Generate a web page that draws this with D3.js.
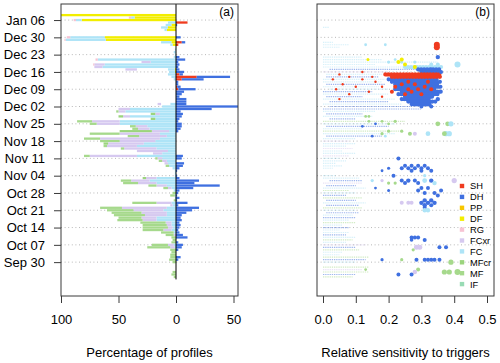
<!DOCTYPE html>
<html>
<head>
<meta charset="utf-8">
<script src="https://cdn.jsdelivr.net/npm/d3@7"></script>
<style>
body { margin: 0; background: #fff; }
svg text { font-family: "Liberation Sans", Arial, Helvetica, sans-serif; fill: #000; }
</style>
</head>
<body>
<div id="chart"></div>
<script>
// grain types and colours
var types = ["SH", "DH", "PP", "DF", "RG", "FCxr", "FC", "MFcr", "MF", "IF"];
var colors = {SH: "#ef3b1f", DH: "#3f70e0", PP: "#f7c600", DF: "#f2ee00", RG: "#f7c3d3",
  FCxr: "#d6c9f0", FC: "#aee4f7", MFcr: "#9bd47d", MF: "#a6d98c", IF: "#98dbb4", X: "#ffffff"};

var tickDays = ["01-06", "12-30", "12-23", "12-16", "12-09", "12-02", "11-25", "11-18", "11-11", "11-04", "10-28", "10-21", "10-14", "10-07", "09-30"];

// (a) left side: stable grain types, % of profiles, stacked from the zero line outwards
var leftBars = [
  ["01-08", [["DF", 100]]],
  ["01-07", [["DF", 36], ["FC", 3], ["RG", 2]]],
  ["01-06", [["DF", 82], ["FC", 5], ["RG", 2]]],
  ["01-05", [["FC", 7]]],
  ["01-04", [["DF", 4], ["FC", 5]]],
  ["01-03", [["DF", 7], ["FC", 6]]],
  ["01-02", [["DF", 8], ["FC", 2]]],
  ["12-30", [["DF", 62], ["FC", 30], ["RG", 3]]],
  ["12-29", [["DF", 61], ["FC", 35], ["RG", 1]]],
  ["12-28", [["DF", 4], ["FC", 9]]],
  ["12-27", [["DF", 3], ["FC", 2]]],
  ["12-25", [["FC", 1]]],
  ["12-24", [["FC", 2]]],
  ["12-23", [["FC", 1]]],
  ["12-22", [["FC", 2]]],
  ["12-21", [["FC", 68], ["RG", 2]]],
  ["12-20", [["FC", 22], ["FCxr", 8]]],
  ["12-19", [["FC", 62], ["FCxr", 9], ["RG", 1]]],
  ["12-18", [["FC", 64], ["FCxr", 7]]],
  ["12-17", [["DF", 1], ["FC", 6], ["X", 27], ["FCxr", 10]]],
  ["12-16", [["DF", 1], ["FC", 5]]],
  ["12-15", [["FC", 7]]],
  ["12-14", [["FC", 4]]],
  ["12-13", [["FC", 2]]],
  ["12-03", [["FC", 5], ["X", 8], ["FCxr", 3]]],
  ["12-02", [["FC", 12]]],
  ["12-01", [["FC", 40], ["FCxr", 10]]],
  ["11-30", [["FC", 44], ["FCxr", 6], ["MF", 2]]],
  ["11-29", [["FC", 14], ["FCxr", 4], ["MFcr", 4]]],
  ["11-28", [["FC", 40], ["FCxr", 6], ["MFcr", 4]]],
  ["11-27", [["FC", 18], ["MFcr", 4]]],
  ["11-26", [["FC", 49], ["FCxr", 24], ["MF", 13]]],
  ["11-25", [["FC", 49], ["FCxr", 20], ["MF", 6]]],
  ["11-24", [["FC", 25], ["FCxr", 10], ["MF", 5]]],
  ["11-23", [["FC", 23], ["FCxr", 10], ["MF", 5]]],
  ["11-22", [["FC", 6], ["FCxr", 15], ["MFcr", 28]]],
  ["11-21", [["FC", 14], ["FCxr", 35], ["MF", 26]]],
  ["11-20", [["FC", 8], ["FCxr", 24], ["MF", 10]]],
  ["11-19", [["FC", 14], ["FCxr", 52], ["MF", 14]]],
  ["11-18", [["FC", 18], ["FCxr", 31], ["MF", 17]]],
  ["11-17", [["FC", 28], ["FCxr", 31], ["MFcr", 4]]],
  ["11-16", [["FC", 34], ["FCxr", 26], ["MF", 3]]],
  ["11-15", [["FC", 17], ["FCxr", 28], ["MF", 3]]],
  ["11-14", [["FC", 7], ["FCxr", 27]]],
  ["11-13", [["FC", 12], ["FCxr", 8]]],
  ["11-12", [["FC", 34], ["FCxr", 41], ["MF", 5]]],
  ["11-11", [["FC", 12], ["FCxr", 4], ["MF", 2]]],
  ["11-10", [["FC", 8], ["FCxr", 4], ["MF", 3]]],
  ["11-09", [["FC", 7], ["FCxr", 3]]],
  ["11-08", [["FC", 6], ["MF", 3]]],
  ["11-07", [["FC", 3]]],
  ["11-06", [["FC", 1]]],
  ["11-05", [["FC", 1]]],
  ["11-04", [["FC", 1]]],
  ["11-03", [["FC", 17], ["FCxr", 9], ["MFcr", 3]]],
  ["11-02", [["FC", 23], ["FCxr", 16], ["MF", 9]]],
  ["11-01", [["FC", 17], ["FCxr", 16], ["MF", 13]]],
  ["10-31", [["FC", 8], ["FCxr", 9], ["MF", 7]]],
  ["10-30", [["FC", 4], ["FCxr", 3], ["MF", 4]]],
  ["10-29", [["FC", 2]]],
  ["10-28", [["MF", 3]]],
  ["10-27", [["FC", 1], ["MF", 4]]],
  ["10-26", [["FC", 1]]],
  ["10-25", [["MF", 2]]],
  ["10-24", [["FC", 4], ["FCxr", 13], ["MF", 21]]],
  ["10-23", [["FC", 3], ["FCxr", 2]]],
  ["10-22", [["FC", 8], ["FCxr", 39], ["MF", 19]]],
  ["10-21", [["FC", 11], ["FCxr", 26], ["MF", 23]]],
  ["10-20", [["FC", 8], ["FCxr", 22], ["MF", 26]]],
  ["10-19", [["FC", 8], ["FCxr", 19], ["MF", 27]]],
  ["10-18", [["FC", 17], ["FCxr", 13], ["MF", 20]]],
  ["10-17", [["FC", 17], ["FCxr", 12], ["MF", 22]]],
  ["10-16", [["FC", 4], ["FCxr", 5], ["MF", 22]]],
  ["10-15", [["FC", 4], ["FCxr", 4], ["MF", 21]]],
  ["10-14", [["FC", 3], ["FCxr", 4], ["MF", 22]]],
  ["10-13", [["FC", 4], ["FCxr", 7], ["MF", 18]]],
  ["10-12", [["FC", 2], ["MF", 11]]],
  ["10-11", [["FCxr", 2], ["MF", 7]]],
  ["10-10", [["MF", 4]]],
  ["10-09", [["MF", 3]]],
  ["10-08", [["MF", 4]]],
  ["10-07", [["FC", 2], ["FCxr", 5], ["MF", 14]]],
  ["10-06", [["FC", 1], ["FCxr", 4], ["MF", 20]]],
  ["10-05", [["MF", 5]]],
  ["10-04", [["MF", 4]]],
  ["10-03", [["MF", 5]]],
  ["10-02", [["MF", 5]]],
  ["10-01", [["MF", 6]]],
  ["09-30", [["MF", 3]]],
  ["09-26", [["MF", 3]]],
  ["09-25", [["MF", 4]]],
  ["09-24", [["MF", 2]]]
];

// (a) right side: persistent types [day, SH, DH]
var rightBars = [
  ["01-05", 10, 0], ["01-04", 0, 1], ["12-30", 0, 4], ["12-28", 5, 3], ["12-27", 2, 0],
  ["12-22", 0, 3], ["12-21", 0, 8], ["12-20", 0, 2], ["12-19", 0, 3], ["12-18", 0, 2],
  ["12-17", 0, 3], ["12-16", 0, 7], ["12-15", 3, 3], ["12-14", 18, 29], ["12-13", 5, 19],
  ["12-12", 0, 2], ["12-11", 0, 2], ["12-10", 1, 3], ["12-09", 2, 15], ["12-08", 0, 7],
  ["12-07", 0, 5], ["12-06", 0, 3], ["12-05", 0, 9], ["12-04", 0, 9], ["12-03", 0, 9],
  ["12-02", 0, 56], ["12-01", 0, 31], ["11-30", 0, 4], ["11-29", 0, 6], ["11-28", 0, 5],
  ["11-27", 0, 3], ["11-26", 0, 2], ["11-25", 0, 5], ["11-24", 0, 5], ["11-23", 0, 4],
  ["11-22", 0, 2], ["11-12", 0, 6], ["11-11", 0, 5], ["11-09", 0, 7], ["11-08", 0, 6],
  ["11-07", 0, 3], ["11-06", 0, 1], ["11-04", 0, 1], ["11-03", 0, 3], ["11-02", 0, 20],
  ["11-01", 0, 16], ["10-31", 0, 38], ["10-30", 0, 15], ["10-29", 0, 3], ["10-28", 0, 2],
  ["10-27", 0, 1], ["10-26", 0, 3], ["10-25", 0, 1], ["10-24", 0, 10], ["10-23", 0, 2],
  ["10-22", 0, 20], ["10-21", 0, 14], ["10-20", 0, 9], ["10-19", 0, 5], ["10-18", 0, 4],
  ["10-17", 0, 5], ["10-16", 0, 3], ["10-15", 0, 4], ["10-14", 0, 3], ["10-13", 0, 2],
  ["10-12", 0, 3], ["10-11", 0, 6], ["10-10", 0, 10], ["10-08", 0, 2], ["10-07", 0, 6],
  ["10-06", 0, 5], ["10-05", 0, 2], ["10-02", 0, 4], ["10-01", 0, 2]
];

// (b) faint rows of small points [day, from, to, type]
var streaks = [
  ["01-03", 0, 0.02, "FC"], ["12-28", 0, 0.03, "FC"], ["12-27", 0, 0.08, "FC"], ["12-26", 0, 0.05, "FC"],
  ["12-22", 0, 0.12, "FC"], ["12-21", 0, 0.18, "FC"], ["12-20", 0, 0.35, "FC"], ["12-19", 0, 0.16, "FC"],
  ["12-18", 0, 0.35, "FC"], ["12-17", 0.02, 0.3, "DH"], ["12-16", 0, 0.2, "FCxr"], ["12-15", 0.01, 0.18, "FC"],
  ["12-14", 0.01, 0.17, "DH"], ["12-13", 0, 0.19, "FC"], ["12-12", 0, 0.18, "FC"], ["12-11", 0.01, 0.19, "DH"],
  ["12-10", 0, 0.17, "FC"], ["12-09", 0.02, 0.2, "FC"], ["12-08", 0, 0.15, "DH"], ["12-07", 0, 0.2, "FC"],
  ["12-06", 0.01, 0.12, "DH"], ["12-05", 0, 0.22, "FC"], ["12-04", 0.02, 0.2, "DH"], ["12-03", 0, 0.24, "FC"],
  ["12-02", 0.02, 0.34, "DH"], ["12-01", 0, 0.3, "DH"], ["11-30", 0, 0.16, "FC"], ["11-29", 0.01, 0.12, "DH"],
  ["11-28", 0, 0.15, "FC"], ["11-27", 0.02, 0.1, "DH"], ["11-26", 0, 0.25, "MF"], ["11-25", 0, 0.22, "FC"],
  ["11-24", 0.01, 0.2, "DH"], ["11-23", 0, 0.12, "FC"], ["11-22", 0, 0.24, "MF"], ["11-21", 0, 0.22, "FC"],
  ["11-20", 0.01, 0.18, "DH"], ["11-19", 0, 0.1, "FC"], ["11-18", 0, 0.08, "FCxr"], ["11-17", 0, 0.1, "FC"],
  ["11-16", 0, 0.07, "FC"], ["11-15", 0, 0.09, "FCxr"], ["11-14", 0, 0.06, "FC"], ["11-13", 0, 0.1, "FC"],
  ["11-12", 0, 0.08, "FCxr"], ["11-11", 0, 0.05, "FC"], ["11-10", 0, 0.07, "FC"], ["11-09", 0, 0.04, "FC"],
  ["11-08", 0, 0.06, "FC"], ["11-07", 0, 0.03, "FC"], ["11-04", 0, 0.04, "FC"], ["11-03", 0, 0.11, "FC"],
  ["11-02", 0.02, 0.12, "DH"], ["11-01", 0, 0.12, "FCxr"], ["10-31", 0.01, 0.1, "DH"], ["10-30", 0, 0.13, "FC"],
  ["10-29", 0, 0.08, "MF"], ["10-28", 0, 0.1, "FC"], ["10-27", 0, 0.07, "DH"], ["10-26", 0, 0.12, "MF"],
  ["10-25", 0.01, 0.1, "DH"], ["10-24", 0, 0.13, "FC"], ["10-23", 0.01, 0.11, "DH"], ["10-22", 0, 0.12, "MF"],
  ["10-21", 0, 0.1, "FC"], ["10-20", 0.01, 0.11, "DH"], ["10-19", 0, 0.09, "FC"], ["10-18", 0, 0.1, "DH"],
  ["10-17", 0, 0.08, "FC"], ["10-16", 0, 0.1, "MF"], ["10-15", 0, 0.06, "FC"], ["10-14", 0, 0.08, "DH"],
  ["10-13", 0, 0.05, "FC"], ["10-12", 0, 0.08, "FC"], ["10-11", 0, 0.07, "DH"], ["10-10", 0, 0.1, "FC"],
  ["10-09", 0, 0.09, "MF"], ["10-08", 0, 0.07, "FC"], ["10-07", 0, 0.13, "FCxr"], ["10-06", 0, 0.1, "DH"],
  ["10-05", 0, 0.11, "MF"], ["10-04", 0, 0.06, "FC"], ["10-03", 0, 0.05, "FC"], ["10-02", 0, 0.14, "MF"],
  ["10-01", 0, 0.13, "DH"], ["09-30", 0, 0.1, "FC"], ["09-28", 0, 0.14, "MF"], ["09-27", 0, 0.12, "FCxr"],
  ["09-26", 0, 0.14, "MF"], ["09-25", 0, 0.1, "DH"], ["09-24", 0, 0.09, "MF"]
];

// (b) dense rows of large points [day, from, to, type]
var bands = [
  ["12-18", 0.25, 0.36, "FC"], ["12-17", 0.29, 0.36, "DH"], ["12-16", 0.30, 0.36, "DH"],
  ["12-13", 0.20, 0.35, "DH"], ["12-12", 0.21, 0.36, "DH"], ["12-11", 0.22, 0.35, "DH"],
  ["12-10", 0.23, 0.36, "DH"], ["12-09", 0.22, 0.34, "DH"], ["12-08", 0.24, 0.36, "DH"],
  ["12-07", 0.23, 0.35, "DH"], ["12-06", 0.25, 0.34, "DH"], ["12-05", 0.24, 0.33, "DH"],
  ["12-04", 0.26, 0.35, "DH"], ["12-03", 0.27, 0.33, "DH"],
  ["12-15", 0.19, 0.36, "SH"], ["12-14", 0.21, 0.36, "SH"]
];

// (b) single points [day, sensitivity, type, size]
var points = [
  ["12-27", 0.13, "FC", 1.4], ["12-27", 0.19, "FC", 1.4],
  ["12-21", 0.22, "FC", 1.4], ["12-20", 0.2, "FC", 1.6], ["12-20", 0.24, "FC", 1.6], ["12-20", 0.28, "FC", 1.6],
  ["12-19", 0.33, "FC", 2], ["12-19", 0.35, "FC", 2], ["12-19", 0.41, "FC", 3],
  ["12-21", 0.137, "DF", 1.5], ["12-21", 0.24, "DF", 2], ["12-20", 0.23, "DF", 2], ["12-19", 0.25, "DF", 2], ["12-18", 0.28, "DF", 2],
  ["12-22", 0.35, "DH", 2.2], ["12-05", 0.35, "DH", 2.2], ["12-16", 0.36, "DH", 2], ["12-17", 0.33, "DH", 2],
  ["12-02", 0.3, "DH", 2], ["12-02", 0.33, "DH", 2],
  ["11-28", 0.13, "MF", 1.4], ["11-28", 0.14, "MF", 1.4],
  ["11-25", 0.35, "MF", 2.4], ["11-25", 0.38, "MF", 2.4], ["11-25", 0.39, "FC", 2.6],
  ["11-26", 0.14, "MF", 1.4], ["11-26", 0.18, "MF", 1.4], ["11-25", 0.2, "MF", 1.4], ["11-26", 0.22, "MF", 1.6],
  ["11-25", 0.16, "DH", 1.4], ["11-24", 0.12, "DH", 1.4],
  ["11-21", 0.32, "FC", 2.4], ["11-21", 0.375, "FC", 2.6], ["11-21", 0.385, "FC", 2.6], ["11-21", 0.37, "MF", 2.4],
  ["11-21", 0.265, "MF", 2], ["11-21", 0.28, "FCxr", 2], ["11-22", 0.24, "MF", 1.6], ["11-22", 0.2, "MF", 1.6],
  ["11-21", 0.18, "MF", 1.6], ["11-20", 0.15, "DH", 1.4], ["11-20", 0.19, "FC", 1.4],
  ["11-11", 0.23, "DH", 2],
  ["11-08", 0.25, "DH", 2], ["11-08", 0.27, "DH", 2], ["11-08", 0.29, "DH", 2], ["11-08", 0.31, "DH", 2],
  ["11-07", 0.24, "DH", 2], ["11-07", 0.26, "DH", 2], ["11-07", 0.28, "DH", 2], ["11-07", 0.3, "DH", 2],
  ["11-07", 0.32, "DH", 2], ["11-06", 0.27, "DH", 2], ["11-06", 0.3, "DH", 2], ["11-06", 0.33, "DH", 2],
  ["11-07", 0.2, "DH", 1.6], ["11-06", 0.18, "DH", 1.4],
  ["11-04", 0.215, "DH", 2], ["11-04", 0.31, "FC", 1.6],
  ["11-02", 0.24, "DH", 2], ["11-02", 0.26, "DH", 2.2], ["11-02", 0.28, "DH", 2], ["11-01", 0.25, "DH", 2],
  ["11-01", 0.29, "DH", 2], ["11-02", 0.33, "DH", 2.2], ["11-02", 0.4, "FCxr", 2.6], ["11-02", 0.31, "FC", 2.4],
  ["11-01", 0.34, "FC", 2.2], ["11-02", 0.18, "FCxr", 1.6], ["11-01", 0.2, "MF", 1.6], ["11-01", 0.22, "MF", 1.6],
  ["11-02", 0.15, "FC", 1.6],
  ["10-30", 0.3, "DH", 2], ["10-30", 0.32, "DH", 2], ["10-29", 0.36, "DH", 2], ["10-29", 0.29, "DH", 2],
  ["10-28", 0.31, "DH", 2], ["10-28", 0.34, "DH", 2], ["10-27", 0.35, "DH", 2], ["10-29", 0.2, "DH", 1.5],
  ["10-30", 0.16, "DH", 1.4],
  ["10-24", 0.24, "FCxr", 2], ["10-24", 0.26, "FCxr", 2], ["10-24", 0.27, "FCxr", 2],
  ["10-25", 0.31, "DH", 2.2], ["10-25", 0.33, "DH", 2.2], ["10-24", 0.3, "DH", 2.2], ["10-24", 0.32, "DH", 2.2],
  ["10-24", 0.34, "DH", 2.2], ["10-23", 0.31, "DH", 2.2], ["10-23", 0.33, "DH", 2], ["10-22", 0.31, "DH", 2],
  ["10-21", 0.31, "FC", 2.2], ["10-21", 0.32, "FC", 2.2],
  ["10-10", 0.27, "DH", 2], ["10-10", 0.28, "DH", 2], ["10-10", 0.29, "DH", 2], ["10-09", 0.31, "DH", 2],
  ["10-09", 0.27, "DH", 1.8],
  ["10-06", 0.285, "FCxr", 2.5], ["10-06", 0.295, "FCxr", 2.5], ["10-05", 0.275, "MF", 1.6],
  ["10-06", 0.355, "DH", 2], ["10-06", 0.375, "DH", 2],
  ["10-01", 0.18, "DH", 1.6], ["10-01", 0.24, "MF", 1.6], ["10-01", 0.285, "DH", 2], ["10-01", 0.31, "DH", 2],
  ["10-01", 0.32, "DH", 2], ["10-01", 0.33, "DH", 2], ["10-01", 0.34, "DH", 2], ["10-01", 0.355, "DH", 2],
  ["09-30", 0.39, "MF", 2.6],
  ["09-27", 0.13, "MF", 1.4], ["09-27", 0.29, "MF", 2], ["09-26", 0.28, "FCxr", 2.2], ["09-26", 0.37, "MF", 2.6],
  ["09-26", 0.385, "MF", 2.6], ["09-26", 0.41, "MF", 3], ["09-25", 0.23, "DH", 2], ["09-25", 0.27, "DH", 2],
  // surface hoar
  ["12-15", 0.05, "SH", 1.2], ["12-14", 0.08, "SH", 1.2], ["12-13", 0.03, "SH", 1.2], ["12-13", 0.12, "SH", 1.2],
  ["12-12", 0.16, "SH", 1.2], ["12-11", 0.06, "SH", 1.2], ["12-10", 0.1, "SH", 1.2], ["12-10", 0.18, "SH", 1.2],
  ["12-09", 0.04, "SH", 1.2], ["12-08", 0.14, "SH", 1.2], ["12-07", 0.08, "SH", 1.2], ["12-06", 0.18, "SH", 1.2],
  ["12-05", 0.05, "SH", 1.2], ["12-14", 0.15, "SH", 1.2], ["12-16", 0.12, "SH", 1.2],
  ["12-27", 0.347, "SH", 3], ["12-26", 0.347, "SH", 3],
  ["12-12", 0.26, "SH", 2], ["12-12", 0.32, "SH", 2], ["12-11", 0.24, "SH", 2], ["12-11", 0.28, "SH", 2],
  ["12-10", 0.22, "SH", 2], ["12-10", 0.31, "SH", 2], ["12-09", 0.26, "SH", 2], ["12-09", 0.29, "SH", 2],
  ["12-09", 0.33, "SH", 2], ["12-08", 0.21, "SH", 2], ["12-08", 0.27, "SH", 2], ["12-07", 0.25, "SH", 2],
  ["12-07", 0.3, "SH", 2]
];

function day(md) {
  var p = md.split("-");
  var m = +p[0];
  return new Date(m === 1 ? 2017 : 2016, m - 1, +p[1]);
}

var W = 500, H = 363;
var top_ = 4, bottom = 296;
var svg = d3.select("#chart").append("svg").attr("width", W).attr("height", H);

var y = d3.scaleTime()
  .domain([new Date(2016, 8, 16, 7), new Date(2017, 0, 12, 12)])
  .range([bottom, top_]);

var xL = d3.scaleLinear().domain([100, -53.9]).range([61, 238]);
var xR = d3.scaleLinear().domain([-0.0183, 0.5213]).range([317, 494]);

var defs = svg.append("defs");
defs.append("clipPath").attr("id", "clipL").append("rect")
  .attr("x", 61).attr("y", top_).attr("width", 177).attr("height", bottom - top_);
defs.append("clipPath").attr("id", "clipR").append("rect")
  .attr("x", 317).attr("y", top_).attr("width", 177).attr("height", bottom - top_);

// dotted gridlines on both panels
[[61, 238], [317, 494]].forEach(function(r) {
  svg.append("g").selectAll("line").data(tickDays).enter().append("line")
    .attr("x1", r[0]).attr("x2", r[1])
    .attr("y1", function(d) { return y(day(d)); })
    .attr("y2", function(d) { return y(day(d)); })
    .attr("stroke", "#b8b8b8").attr("stroke-width", 1).attr("stroke-dasharray", "1,2.6");
});

// ---- panel (a)
var gA = svg.append("g").attr("clip-path", "url(#clipL)");
var barH = 2.3;

leftBars.forEach(function(row) {
  var cum = 0;
  row[1].forEach(function(s) {
    gA.append("rect")
      .attr("x", xL(cum + s[1]))
      .attr("width", xL(cum) - xL(cum + s[1]))
      .attr("y", y(day(row[0])) - barH / 2)
      .attr("height", barH)
      .attr("fill", colors[s[0]]);
    cum += s[1];
  });
});

rightBars.forEach(function(row) {
  var cum = 0;
  [["SH", row[1]], ["DH", row[2]]].forEach(function(s) {
    if (!s[1]) return;
    gA.append("rect")
      .attr("x", xL(-cum))
      .attr("width", xL(-(cum + s[1])) - xL(-cum))
      .attr("y", y(day(row[0])) - barH / 2)
      .attr("height", barH)
      .attr("fill", colors[s[0]]);
    cum += s[1];
  });
});

svg.append("line")
  .attr("x1", xL(0)).attr("x2", xL(0))
  .attr("y1", top_).attr("y2", y(day("09-23")))
  .attr("stroke", "#000").attr("stroke-width", 1);

// ---- panel (b)
var gB = svg.append("g").attr("clip-path", "url(#clipR)");

gB.selectAll(".streak").data(streaks).enter().append("line")
  .attr("x1", function(d) { return xR(d[1]); })
  .attr("x2", function(d) { return xR(d[2]); })
  .attr("y1", function(d) { return y(day(d[0])); })
  .attr("y2", function(d) { return y(day(d[0])); })
  .attr("stroke", function(d) { return colors[d[3]]; })
  .attr("stroke-width", 1.2)
  .attr("stroke-dasharray", "1.3,0.9")
  .attr("opacity", 0.5);

// rows of overlapping circles (round dots along the line)
gB.selectAll(".band").data(bands).enter().append("line")
  .attr("x1", function(d) { return xR(d[1]); })
  .attr("x2", function(d) { return xR(d[2]); })
  .attr("y1", function(d) { return y(day(d[0])); })
  .attr("y2", function(d) { return y(day(d[0])); })
  .attr("stroke", function(d) { return colors[d[3]]; })
  .attr("stroke-width", 4.2)
  .attr("stroke-linecap", "round")
  .attr("stroke-dasharray", "0,3");

gB.selectAll(".pt").data(points).enter().append("circle")
  .attr("cx", function(d) { return xR(d[1]); })
  .attr("cy", function(d) { return y(day(d[0])); })
  .attr("r", function(d) { return d[3]; })
  .attr("fill", function(d) { return colors[d[2]]; });

// legend
var leg = svg.append("g");
types.forEach(function(t, i) {
  var ly = 186 + i * 10.9;
  leg.append("rect").attr("x", 459.8).attr("y", ly - 2.2).attr("width", 4.4).attr("height", 4.4)
    .attr("fill", colors[t]);
  leg.append("text").attr("x", 470).attr("y", ly + 3.4).style("font-size", "9.3px").text(t);
});

// ---- frames and axes
[[61, 238], [317, 494]].forEach(function(r) {
  svg.append("rect").attr("x", r[0]).attr("y", top_).attr("width", r[1] - r[0]).attr("height", bottom - top_)
    .attr("fill", "none").attr("stroke", "#3a3a3a").attr("stroke-width", 1);
});

var yAxis = svg.append("g").attr("transform", "translate(61,0)")
  .call(d3.axisLeft(y).tickValues(tickDays.map(day)).tickFormat(d3.timeFormat("%b %d"))
    .tickSize(7).tickPadding(9));

var xAxisL = svg.append("g").attr("transform", "translate(0," + bottom + ")")
  .call(d3.axisBottom(xL).tickValues([100, 50, 0, -50]).tickFormat(function(d) { return Math.abs(d); })
    .tickSize(7).tickPadding(12));

var xAxisR = svg.append("g").attr("transform", "translate(0," + bottom + ")")
  .call(d3.axisBottom(xR).tickValues([0, 0.1, 0.2, 0.3, 0.4, 0.5]).tickFormat(d3.format(".1f"))
    .tickSize(7).tickPadding(12));

[yAxis, xAxisL, xAxisR].forEach(function(a) {
  a.select(".domain").remove();
  a.selectAll(".tick line").attr("stroke", "#3a3a3a");
  a.selectAll("text").style("font-size", "13px").attr("fill", "#000");
});

svg.append("text").attr("x", 149.5).attr("y", 357).attr("text-anchor", "middle")
  .style("font-size", "13px").text("Percentage of profiles");
svg.append("text").attr("x", 405.5).attr("y", 357).attr("text-anchor", "middle")
  .style("font-size", "13px").text("Relative sensitivity to triggers");

svg.append("text").attr("x", 234).attr("y", 15.5).attr("text-anchor", "end")
  .style("font-size", "12px").text("(a)");
svg.append("text").attr("x", 490).attr("y", 15.5).attr("text-anchor", "end")
  .style("font-size", "12px").text("(b)");
</script>
</body>
</html>
